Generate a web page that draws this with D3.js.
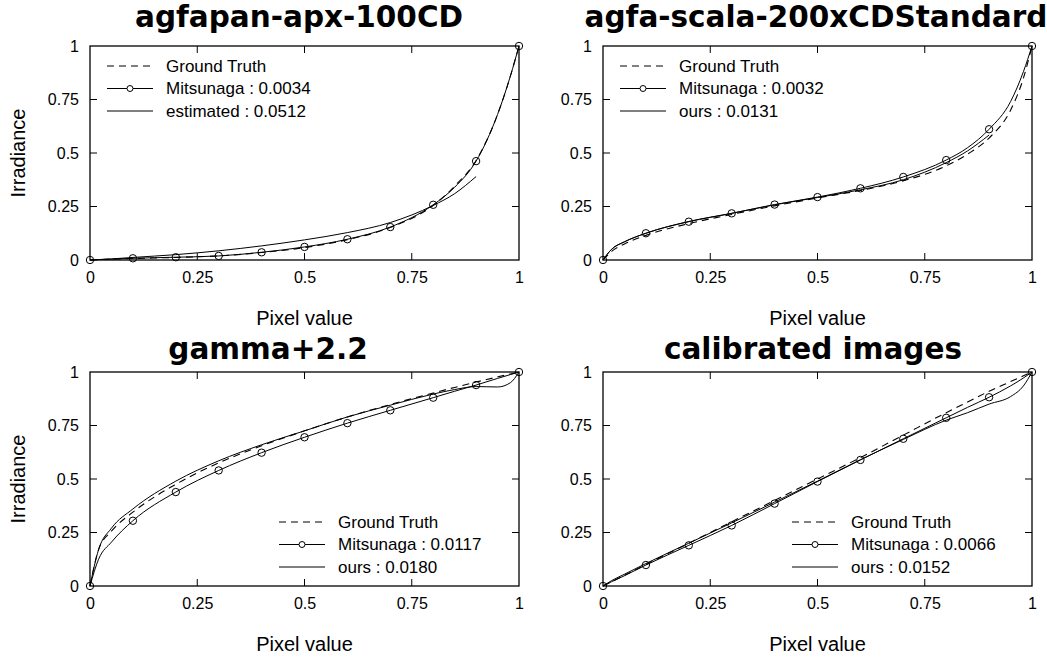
<!DOCTYPE html>
<html>
<head>
<meta charset="utf-8">
<script src="https://cdn.jsdelivr.net/npm/d3@7"></script>
<style>
  body { margin: 0; background: #fff; }
  svg { display: block; }
</style>
</head>
<body>
<svg id="chart" width="1047" height="657"></svg>
<script>
var pixelGrid = [0, 0.02, 0.05, 0.1, 0.2, 0.3, 0.4, 0.5, 0.6, 0.7, 0.8, 0.85, 0.9, 0.95, 0.98, 1]
var tickValues = [0, 0.25, 0.5, 0.75, 1]

var titles = ['agfapan-apx-100CD', 'agfa-scala-200xCDStandard', 'gamma+2.2', 'calibrated images']
var legendNames = [
  ['Ground Truth', 'Mitsunaga : 0.0034', 'estimated : 0.0512'],
  ['Ground Truth', 'Mitsunaga : 0.0032', 'ours : 0.0131'],
  ['Ground Truth', 'Mitsunaga : 0.0117', 'ours : 0.0180'],
  ['Ground Truth', 'Mitsunaga : 0.0066', 'ours : 0.0152']
]

// agfapan-apx-100CD
var agfapanTruth = [0, 0.002, 0.004, 0.007, 0.012, 0.019, 0.035, 0.058, 0.095, 0.152, 0.255, 0.345, 0.465, 0.68, 0.86, 1]
var agfapanMitsunaga = [0, 0.002, 0.004, 0.008, 0.013, 0.019, 0.036, 0.061, 0.097, 0.154, 0.258, 0.34, 0.462, 0.68, 0.86, 1]
var agfapanEstimated = [0, 0.002, 0.005, 0.012, 0.025, 0.043, 0.066, 0.094, 0.128, 0.175, 0.255, 0.31, 0.39, null, null, null]

// agfa-scala-200xCDStandard
var scalaTruth = [0, 0.04, 0.075, 0.115, 0.17, 0.213, 0.253, 0.29, 0.325, 0.37, 0.44, 0.495, 0.57, 0.70, 0.85, 1]
var scalaMitsunaga = [0, 0.05, 0.085, 0.125, 0.179, 0.218, 0.259, 0.294, 0.335, 0.388, 0.467, 0.525, 0.611, 0.74, 0.88, 1]
var scalaOurs = [0, 0.05, 0.085, 0.125, 0.18, 0.218, 0.258, 0.292, 0.328, 0.375, 0.455, 0.51, 0.584, null, null, null]

// gamma+2.2
var gammaTruth = [0, 0.17, 0.256, 0.345, 0.475, 0.575, 0.655, 0.725, 0.79, 0.848, 0.902, 0.928, 0.953, 0.977, 0.991, 1]
var gammaMitsunaga = [0, 0.125, 0.205, 0.305, 0.439, 0.54, 0.623, 0.695, 0.761, 0.821, 0.88, 0.91, 0.939, 0.97, 0.988, 1]
var gammaOurs = [0, 0.17, 0.27, 0.36, 0.49, 0.585, 0.66, 0.725, 0.79, 0.845, 0.897, 0.918, 0.932, 0.93, 0.95, 1]

// calibrated images
var calibTruth = [0, 0.02, 0.05, 0.1, 0.2, 0.3, 0.4, 0.5, 0.6, 0.705, 0.81, 0.86, 0.91, 0.955, 0.982, 1]
var calibMitsunaga = [0, 0.02, 0.048, 0.098, 0.19, 0.283, 0.385, 0.488, 0.589, 0.688, 0.786, 0.835, 0.882, 0.935, 0.972, 1]
var calibOurs = [0, 0.025, 0.055, 0.105, 0.2, 0.295, 0.392, 0.49, 0.59, 0.685, 0.775, 0.81, 0.85, 0.885, 0.935, 1]

var panels = [
  {left: 90, top: 46, truth: agfapanTruth, mits: agfapanMitsunaga, ours: agfapanEstimated, legend: 'topleft', ylabel: true, titleX: 299, titleY: 27},
  {left: 603, top: 46, truth: scalaTruth, mits: scalaMitsunaga, ours: scalaOurs, legend: 'topleft', ylabel: false, titleX: 816, titleY: 27},
  {left: 90, top: 372, truth: gammaTruth, mits: gammaMitsunaga, ours: gammaOurs, legend: 'bottomright', ylabel: true, titleX: 268, titleY: 358.5},
  {left: 603, top: 372, truth: calibTruth, mits: calibMitsunaga, ours: calibOurs, legend: 'bottomright', ylabel: false, titleX: 813, titleY: 358.5}
]

var w = 429, h = 214
var tickFont = 'Liberation Sans, Arial, sans-serif'

var svg = d3.select('#chart')

panels.forEach(function(p, i){

  var g = svg.append('g')
  .attr('transform', `translate(${p.left}, ${p.top})`)

  var x_scale = d3.scaleLinear().domain([0, 1]).range([0, w])
  var y_scale = d3.scaleLinear().domain([0, 1]).range([h, 0])

  // axes, ticks pointing inward on every side
  var inner = tickValues.filter(v => v > 0 && v < 1)

  g.append('g')
  .attr('class', 'x_axis_g')
  .attr('transform', `translate(0, ${h})`)
  .call(d3.axisBottom(x_scale).tickValues(tickValues).tickSize(0).tickPadding(12).tickFormat(d3.format('')))
  .call(a => a.select('.domain').remove())
  .selectAll('text')
  .attr('font-size', 16)
  .attr('font-family', tickFont)
  .attr('fill', '#000')

  g.append('g')
  .attr('class', 'y_axis_g')
  .call(d3.axisLeft(y_scale).tickValues(tickValues).tickSize(0).tickPadding(11).tickFormat(d3.format('')))
  .call(a => a.select('.domain').remove())
  .selectAll('text')
  .attr('font-size', 16)
  .attr('font-family', tickFont)
  .attr('fill', '#000')

  var tickLen = 7
  var tk = g.append('g').attr('stroke', '#000').attr('stroke-width', 1)
  inner.forEach(function(v){
    tk.append('line').attr('x1', x_scale(v)).attr('x2', x_scale(v)).attr('y1', h).attr('y2', h - tickLen)
    tk.append('line').attr('x1', x_scale(v)).attr('x2', x_scale(v)).attr('y1', 0).attr('y2', tickLen)
    tk.append('line').attr('x1', 0).attr('x2', tickLen).attr('y1', y_scale(v)).attr('y2', y_scale(v))
    tk.append('line').attr('x1', w).attr('x2', w - tickLen).attr('y1', y_scale(v)).attr('y2', y_scale(v))
  })

  // curves
  var line = d3.line()
  .defined(d => d[1] != null)
  .x(d => x_scale(d[0]))
  .y(d => y_scale(d[1]))
  .curve(d3.curveMonotoneX)

  var pts = s => pixelGrid.map((x, j) => [x, s[j]])

  g.append('path')
  .datum(pts(p.truth))
  .attr('d', line)
  .attr('fill', 'none')
  .attr('stroke', '#000')
  .attr('stroke-width', 1.1)
  .attr('stroke-dasharray', '7,5')

  g.append('path')
  .datum(pts(p.ours))
  .attr('d', line)
  .attr('fill', 'none')
  .attr('stroke', '#000')
  .attr('stroke-width', 1)

  g.append('path')
  .datum(pts(p.mits))
  .attr('d', line)
  .attr('fill', 'none')
  .attr('stroke', '#000')
  .attr('stroke-width', 1)

  // Mitsunaga markers every 0.1
  g.selectAll('circle.mk')
  .data(pts(p.mits).filter(d => Math.abs(d[0] * 10 - Math.round(d[0] * 10)) < 1e-6))
  .join('circle')
  .attr('class', 'mk')
  .attr('cx', d => x_scale(d[0]))
  .attr('cy', d => y_scale(d[1]))
  .attr('r', 3.7)
  .attr('fill', 'none')
  .attr('stroke', '#000')
  .attr('stroke-width', 1)

  // frame
  g.append('rect')
  .attr('width', w)
  .attr('height', h)
  .attr('fill', 'none')
  .attr('stroke', '#000')
  .attr('stroke-width', 1.3)

  // title
  svg.append('text')
  .attr('x', p.titleX)
  .attr('y', p.titleY)
  .attr('text-anchor', 'middle')
  .attr('font-family', 'DejaVu Sans')
  .attr('font-weight', 'bold')
  .attr('font-size', 29.5)
  .text(titles[i])

  // axis labels
  svg.append('text')
  .attr('x', p.left + w / 2)
  .attr('y', p.top + h + 65)
  .attr('text-anchor', 'middle')
  .attr('font-family', tickFont)
  .attr('font-size', 20)
  .text('Pixel value')

  if (p.ylabel) {
    svg.append('text')
    .attr('transform', `translate(25, ${p.top + h / 2}) rotate(-90)`)
    .attr('text-anchor', 'middle')
    .attr('font-family', tickFont)
    .attr('font-size', 20)
    .text('Irradiance')
  }

  // legend
  var lx, ly
  if (p.legend == 'topleft') { lx = 17; ly = 20 }
  else { lx = 189; ly = 150 }
  var rowGap = 22.5
  var leg = g.append('g').attr('transform', `translate(${lx}, ${ly})`)
  legendNames[i].forEach(function(name, r){
    var yy = r * rowGap
    var ln = leg.append('line')
    .attr('x1', 0).attr('x2', 46).attr('y1', yy).attr('y2', yy)
    .attr('stroke', '#000').attr('stroke-width', 1)
    if (r == 0) ln.attr('stroke-dasharray', '7,5')
    if (r == 1) {
      leg.append('circle').attr('cx', 23).attr('cy', yy).attr('r', 3)
      .attr('fill', '#fff').attr('stroke', '#000').attr('stroke-width', 1)
    }
    leg.append('text')
    .attr('x', 59)
    .attr('y', yy)
    .attr('dy', '0.35em')
    .attr('font-family', tickFont)
    .attr('font-size', 17)
    .text(name)
  })

})
</script>
</body>
</html>
